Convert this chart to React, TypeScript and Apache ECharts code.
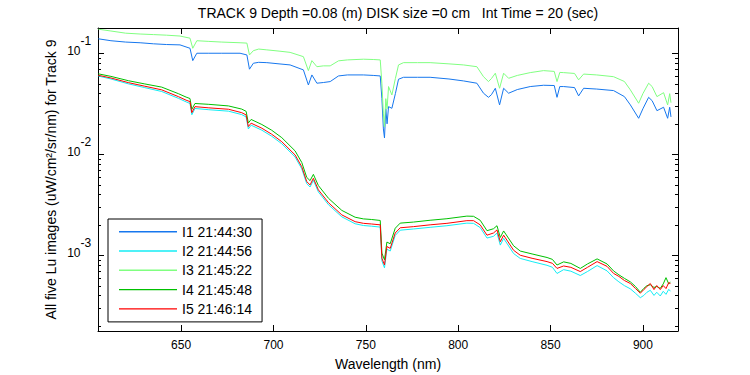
import React, { useEffect, useRef } from 'react';
import * as echarts from 'echarts';

const titleText = 'TRACK 9 Depth =0.08 (m) DISK size =0 cm   Int Time = 20 (sec)';
const xName = 'Wavelength (nm)';
const yName = 'All five Lu images (uW/cm\u00B2/sr/nm) for Track 9';
const seriesNames = ['I1 21:44:30', 'I2 21:44:56', 'I3 21:45:22', 'I4 21:45:48', 'I5 21:46:14'];
const seriesColors = ['#1677ee', '#14ecf4', '#80ff80', '#00c000', '#ff0000'];
const xMin = 605;
const xMax = 919;
const xTicks = [650, 700, 750, 800, 850, 900];
const yMin = 0.0001778;
const yMax = 0.1778;
const yDecades = [0.001, 0.01, 0.1];

// upper pair (I1, I3)
const upperWl = [605.2, 612, 620, 627.8, 635, 642, 649.4, 654.8, 656.3, 658.5, 665, 672, 681.9, 685.6, 687, 689.1, 692, 696.4, 703, 709, 716.2, 718.9, 720.8, 723.5, 727, 730.7, 735.2, 740, 748.7, 754, 757.8, 758.7, 759.5, 760.1, 760.8, 761.5, 762.3, 764.1, 766, 767.7, 770.4, 778, 784.8, 795, 802.9, 810.1, 813.7, 816.4, 818, 820.1, 822.4, 824.6, 827.3, 832, 839, 846.2, 852, 853.5, 855, 857.1, 863, 865.2, 867.9, 875, 884.1, 890, 893.2, 897.7, 900, 903.1, 905, 907.6, 911.2, 913.4, 914.5, 915.2];
const i1 = [0.139, 0.133, 0.129, 0.127, 0.124, 0.122, 0.121, 0.112, 0.0845, 0.100, 0.100, 0.100, 0.100, 0.0962, 0.0695, 0.0796, 0.0813, 0.0807, 0.0785, 0.0766, 0.0684, 0.0485, 0.061, 0.0505, 0.0513, 0.0524, 0.0596, 0.061, 0.061, 0.0603, 0.0596, 0.0355, 0.0178, 0.0145, 0.0282, 0.020, 0.0296, 0.0285, 0.0398, 0.0553, 0.0578, 0.0578, 0.0578, 0.0556, 0.0532, 0.0505, 0.0402, 0.0366, 0.0389, 0.045, 0.0308, 0.045, 0.0402, 0.0437, 0.0468, 0.0482, 0.0479, 0.0366, 0.0468, 0.0468, 0.0457, 0.0378, 0.045, 0.0442, 0.0427, 0.0372, 0.0308, 0.0227, 0.0282, 0.0366, 0.0339, 0.027, 0.0292, 0.0227, 0.0292, 0.0234];
const i3 = [0.173, 0.166, 0.158, 0.155, 0.153, 0.151, 0.148, 0.141, 0.112, 0.133, 0.131, 0.129, 0.127, 0.126, 0.0962, 0.106, 0.110, 0.108, 0.105, 0.102, 0.0925, 0.0673, 0.0845, 0.0736, 0.075, 0.075, 0.0841, 0.0859, 0.0873, 0.0867, 0.0859, 0.0501, 0.0251, 0.0186, 0.0355, 0.0282, 0.0468, 0.0386, 0.0562, 0.0766, 0.0807, 0.0807, 0.0807, 0.0785, 0.0766, 0.0736, 0.0586, 0.0524, 0.0562, 0.0634, 0.045, 0.0634, 0.0565, 0.0603, 0.0643, 0.0673, 0.0661, 0.0524, 0.0646, 0.0643, 0.0631, 0.0545, 0.0622, 0.061, 0.0586, 0.0525, 0.0434, 0.032, 0.0398, 0.0505, 0.0468, 0.0372, 0.0407, 0.0308, 0.0398, 0.0324];

// lower trio (I2, I4, I5)
const lowerWl = [605.2, 612, 621.4, 630, 639.5, 648.5, 652.7, 654.8, 655.8, 657.5, 665, 675.6, 682.8, 685.2, 686.4, 687.9, 693.7, 699, 704.5, 711.7, 715.3, 718, 719.8, 721.6, 724.3, 729.8, 737, 744.2, 748.7, 753, 757.8, 758.7, 760.1, 761.4, 763.2, 765.9, 768.6, 775.8, 784.8, 793.9, 804.7, 808.3, 811.9, 815.6, 819.1, 821, 822.8, 824.6, 830, 833.6, 840, 848.1, 851, 853.5, 857.1, 861, 866.1, 870, 875.2, 880.6, 884.1, 887, 890, 893.2, 896, 898.6, 900.5, 902.2, 904, 906, 907.5, 909.4, 911, 912.5, 914, 914.9];
const i2 = [0.0595, 0.0556, 0.0498, 0.0458, 0.0418, 0.0358, 0.0330, 0.0318, 0.0246, 0.0284, 0.0276, 0.0267, 0.0247, 0.0234, 0.0178, 0.0194, 0.0173, 0.0151, 0.0127, 0.0094, 0.00718, 0.00512, 0.00474, 0.00552, 0.00424, 0.00316, 0.0024, 0.00205, 0.00197, 0.00194, 0.0019, 0.00088, 0.00075, 0.00115, 0.0011, 0.00157, 0.00177, 0.00182, 0.00189, 0.00196, 0.00208, 0.00207, 0.00188, 0.00148, 0.00154, 0.00166, 0.00126, 0.00147, 0.00104, 0.00093, 0.000865, 0.000795, 0.00076, 0.00066, 0.00072, 0.000695, 0.00063, 0.00069, 0.00079, 0.0007, 0.0006, 0.000545, 0.0005, 0.000465, 0.00042, 0.00038, 0.0004, 0.00043, 0.00045, 0.0004, 0.00043, 0.000395, 0.00044, 0.00041, 0.00046, 0.00044];
const i4 = [0.0625, 0.059, 0.0535, 0.0498, 0.0462, 0.0398, 0.0368, 0.0356, 0.0278, 0.0318, 0.0312, 0.0301, 0.028, 0.0266, 0.0204, 0.0221, 0.0197, 0.0173, 0.0146, 0.0108, 0.0083, 0.0059, 0.00548, 0.00632, 0.0049, 0.00366, 0.00278, 0.00238, 0.00229, 0.00226, 0.00221, 0.00105, 0.0009, 0.00135, 0.0013, 0.00185, 0.00208, 0.00213, 0.00222, 0.0023, 0.00244, 0.00243, 0.00222, 0.00175, 0.00183, 0.00196, 0.0015, 0.00174, 0.00124, 0.0011, 0.00103, 0.00095, 0.00091, 0.0008, 0.00086, 0.00083, 0.00074, 0.00082, 0.00092, 0.00082, 0.0007, 0.00064, 0.00059, 0.000545, 0.00049, 0.00043, 0.00047, 0.0005, 0.00051, 0.00048, 0.00049, 0.00047, 0.00052, 0.0006, 0.00052, 0.00054];
const i5 = [0.0605, 0.0569, 0.0512, 0.0473, 0.0434, 0.0372, 0.0343, 0.0332, 0.0258, 0.0296, 0.0288, 0.0279, 0.0258, 0.0245, 0.0188, 0.0203, 0.0181, 0.0158, 0.0133, 0.00984, 0.00753, 0.00536, 0.00497, 0.00578, 0.00444, 0.00331, 0.00251, 0.00215, 0.00207, 0.00204, 0.002, 0.000933, 0.000802, 0.00122, 0.00117, 0.00166, 0.00187, 0.00192, 0.002, 0.00207, 0.0022, 0.0022, 0.002, 0.00158, 0.00166, 0.00178, 0.00136, 0.00158, 0.00112, 0.001, 0.000933, 0.000865, 0.000832, 0.000741, 0.000783, 0.000759, 0.000689, 0.000759, 0.000865, 0.000776, 0.000661, 0.000617, 0.000562, 0.000525, 0.000468, 0.000421, 0.000457, 0.00049, 0.000525, 0.000457, 0.000501, 0.000457, 0.000501, 0.000468, 0.000537, 0.000525];

const FONT = '"Liberation Sans", Arial, Helvetica, sans-serif';

function pairs(wl: number[], vals: number[]) {
  return wl.map((w, i) => [w, vals[i]]);
}

export default function App() {
  const ref = useRef<HTMLDivElement>(null);
  useEffect(() => {
    const el = ref.current;
    if (!el) return;
    const chart = echarts.init(el, null, { renderer: 'svg' });
    const axisLine = { show: true, onZero: false, lineStyle: { color: '#000', width: 1 } };
    const tick = { show: true, inside: true, length: 6, lineStyle: { color: '#000', width: 1 } };
    const seriesData = [
      pairs(upperWl, i1),
      pairs(lowerWl, i2),
      pairs(upperWl, i3),
      pairs(lowerWl, i4),
      pairs(lowerWl, i5),
    ];
    const option: any = {
      animation: false,
      backgroundColor: '#ffffff',
      textStyle: { fontFamily: FONT },
      grid: { left: 98, right: 72, top: 28, bottom: 44, containLabel: false, outerBoundsMode: 'none' },
      xAxis: [
        {
          type: 'value', min: xMin, max: xMax, position: 'bottom',
          name: xName, nameLocation: 'middle', nameGap: 26,
          nameTextStyle: { color: '#000', fontSize: 14, fontFamily: FONT },
          axisLine, axisTick: tick,
          axisLabel: {
            color: '#000', fontSize: 12, fontFamily: FONT, margin: 8,
            formatter: (v: number) => (xTicks.indexOf(v) >= 0 ? String(v) : ''),
          },
          splitLine: { show: false },
        },
        {
          type: 'value', min: xMin, max: xMax, position: 'top',
          axisLine, axisTick: tick, axisLabel: { show: false }, splitLine: { show: false },
        },
      ],
      yAxis: [
        {
          type: 'log', logBase: 10, min: yMin, max: yMax, position: 'left',
          name: yName, nameLocation: 'middle', nameGap: 40,
          nameTextStyle: { color: '#000', fontSize: 14, fontFamily: FONT },
          axisLine, axisTick: tick,
          axisLabel: { show: false },
          splitLine: { show: false },
        },
        {
          type: 'log', logBase: 10, min: yMin, max: yMax, position: 'right',
          axisLine, axisTick: tick, axisLabel: { show: false }, splitLine: { show: false },
        },
      ],
      legend: {
        orient: 'vertical', left: 108, top: 219,
        data: seriesNames,
        icon: 'rect', itemWidth: 58, itemHeight: 1.4, itemGap: 5.3,
        padding: [5.7, 10, 6, 11],
        backgroundColor: '#ffffff', borderColor: '#000', borderWidth: 1, borderRadius: 0,
        textStyle: { color: '#000', fontSize: 14, fontFamily: FONT },
        selectedMode: false,
      },
      series: seriesNames.map((name, k) => ({
        name, type: 'line', xAxisIndex: 0, yAxisIndex: 0,
        data: seriesData[k], showSymbol: false, symbol: 'none',
        color: seriesColors[k],
        lineStyle: { color: seriesColors[k], width: 1 },
        itemStyle: { color: seriesColors[k] },
        emphasis: { disabled: true }, silent: true,
      })),
    };
    chart.setOption(option);

    const xl = chart.convertToPixel({ xAxisIndex: 0 }, xMin) as number;
    const xr = chart.convertToPixel({ xAxisIndex: 0 }, xMax) as number;
    const minorVals: number[] = [];
    for (let e = -4; e <= -1; e++) {
      for (let k = 2; k <= 9; k++) {
        const v = k * Math.pow(10, e);
        if (v > yMin && v < yMax) minorVals.push(v);
      }
    }
    const elements: any[] = [];
    minorVals.forEach((v) => {
      const y = Math.round(chart.convertToPixel({ yAxisIndex: 0 }, v) as number) + 0.5;
      elements.push({ type: 'line', silent: true, shape: { x1: xl, y1: y, x2: xl + 3, y2: y }, style: { stroke: '#000', lineWidth: 1 } });
      elements.push({ type: 'line', silent: true, shape: { x1: xr, y1: y, x2: xr - 3, y2: y }, style: { stroke: '#000', lineWidth: 1 } });
    });
    yDecades.forEach((v) => {
      const y = chart.convertToPixel({ yAxisIndex: 0 }, v) as number;
      const ex = String(Math.round(Math.log10(v)));
      elements.push({
        type: 'text', x: xl - 17.5, y: y - 2.5, silent: true,
        style: { text: '10', fill: '#000', fontSize: 12, fontFamily: FONT, align: 'right', verticalAlign: 'middle' },
      });
      elements.push({
        type: 'text', x: xl - 17.5, y: y - 12.5, silent: true,
        style: { text: ex, fill: '#000', fontSize: 12, fontFamily: FONT, align: 'left', verticalAlign: 'middle' },
      });
    });
    elements.push({
      type: 'text', x: 398, y: 13, silent: true,
      style: { text: titleText, fill: '#000', fontSize: 14, fontFamily: FONT, align: 'center', verticalAlign: 'middle' },
    });
    chart.setOption({ graphic: { elements } });

    return () => chart.dispose();
  }, []);
  return <div ref={ref} style={{ position: 'absolute', left: 0, top: 0, width: 750, height: 375, background: '#fff' }} />;
}
